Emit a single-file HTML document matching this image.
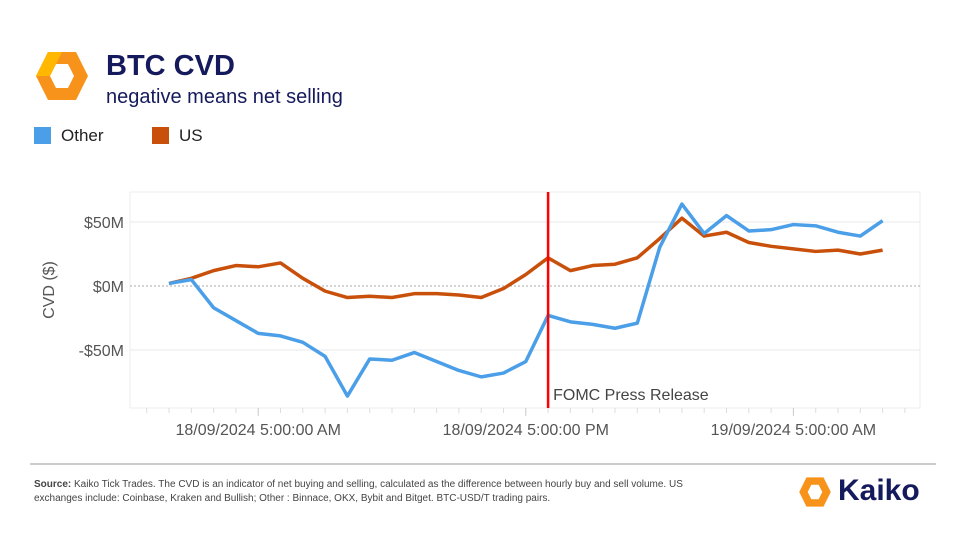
<!DOCTYPE html>
<html><head><meta charset="utf-8"><style>
body{margin:0;width:972px;height:540px;background:#fff;font-family:"Liberation Sans",sans-serif;overflow:hidden;position:relative}
.t{position:absolute;white-space:nowrap}
</style></head><body>
<svg style="position:absolute;left:34px;top:50px" width="56" height="52" viewBox="0 0 56 52">
<path d="M14 2 L42 2 L54 26 L42 50 L14 50 L2 26 Z" fill="#f7931a"/>
<path d="M22 14 L34 14 L40 26 L34 38 L22 38 L16 26 Z" fill="#fff"/>
<path d="M14 2 L28 2 L22 14 L16 26 L2 26 Z" fill="#ffb700"/>
</svg>
<div class="t" style="left:106px;top:50px;font-size:29px;font-weight:bold;color:#151a5c">BTC CVD</div>
<div class="t" style="left:106px;top:86px;font-size:20px;color:#151a5c">negative means net selling</div>
<div class="t" style="left:34px;top:126px;font-size:17px;color:#222"><span style="display:inline-block;width:17px;height:17px;background:#4a9fe8;vertical-align:-3px;margin-right:10px"></span>Other</div>
<div class="t" style="left:152px;top:126px;font-size:17px;color:#222"><span style="display:inline-block;width:17px;height:17px;background:#c8500a;vertical-align:-3px;margin-right:10px"></span>US</div>
<svg id="chart" style="position:absolute;left:0;top:0" width="972" height="540"></svg>
<div style="position:absolute;left:30px;top:463px;width:906px;height:2px;background:#ccc"></div>
<div class="t" style="left:34px;top:478px;font-size:10px;color:#444;line-height:14px;white-space:normal;width:690px"><b>Source:</b> Kaiko Tick Trades. The CVD is an indicator of net buying and selling, calculated as the difference between hourly buy and sell volume.  US exchanges include: Coinbase, Kraken and Bullish; Other : Binnace, OKX, Bybit and Bitget. BTC-USD/T trading pairs.</div>
<svg style="position:absolute;left:798px;top:476px" width="34" height="32" viewBox="0 0 56 52">
<path d="M14 2 L42 2 L54 26 L42 50 L14 50 L2 26 Z" fill="#f7931a"/>
<path d="M22 14 L34 14 L40 26 L34 38 L22 38 L16 26 Z" fill="#fff"/>
</svg>
<div class="t" style="left:838px;top:474px;font-size:30px;font-weight:bold;color:#151a5c">Kaiko</div>
<script>
const tickLabels=["18/09/2024 5:00:00 AM","18/09/2024 5:00:00 PM","19/09/2024 5:00:00 AM"];
const tickIndex=[4,16,28];
const yTicks=[50,0,-50];
const yTickLabels=["$50M","$0M","-$50M"];
const other=[2,5,-17,-27,-37,-39,-44,-55,-86,-57,-58,-52,-59,-66,-71,-68,-59,-23,-28,-30,-33,-29,30,64,41,55,43,44,48,47,42,39,51];
const us=[2,6,12,16,15,18,6,-4,-9,-8,-9,-6,-6,-7,-9,-2,9,22,12,16,17,22,37,53,39,42,34,31,29,27,28,25,28];
const fomcIndex=17;
const svg=document.getElementById('chart');const NS='http://www.w3.org/2000/svg';
const X=i=>169+i*22.3, Y=v=>286-v*1.28;
function mk(t,a){const e=document.createElementNS(NS,t);for(const k in a)e.setAttribute(k,a[k]);svg.appendChild(e);return e;}
mk('rect',{x:130,y:192,width:790,height:216,fill:'none',stroke:'#eee'});
yTicks.forEach((v,i)=>{const g=mk('line',{x1:130,x2:920,y1:Y(v),y2:Y(v),stroke:v===0?'#aaa':'#e8e8e8','stroke-dasharray':v===0?'2,2':'none'});

const t=mk('text',{x:124,y:Y(v)+6,'text-anchor':'end','font-size':16,fill:'#555'});t.textContent=yTickLabels[i];
});
for(let i=-1;i<=34;i++){const x=X(i);if(x<130||x>920)continue;const l=mk('line',{x1:x,x2:x,y1:408,y2:413,stroke:'#ddd'});}
tickIndex.forEach((ix,i)=>{const l=mk('line',{x1:X(ix),x2:X(ix),y1:408,y2:416,stroke:'#ccc'});
const t=mk('text',{x:X(ix),y:435,'text-anchor':'middle','font-size':16,fill:'#555'});t.textContent=tickLabels[i];
});
const yt=mk('text',{x:54,y:290,'text-anchor':'middle','font-size':16,fill:'#555',transform:'rotate(-90 54 290)'});yt.textContent='CVD ($)';

function line(d,c,n){const p=mk('polyline',{points:d.map((v,i)=>X(i)+','+Y(v)).join(' '),fill:'none',stroke:c,'stroke-width':3.5,'stroke-linejoin':'round'});
}
line(us,'#c8500a','us-line');line(other,'#4a9fe8','other-line');
const f=mk('line',{x1:X(fomcIndex),x2:X(fomcIndex),y1:192,y2:408,stroke:'#ff0000','stroke-width':2.5});

const ft=mk('text',{x:X(fomcIndex)+5,y:400,'font-size':16,fill:'#444'});ft.textContent='FOMC Press Release';

</script>
</body></html>
